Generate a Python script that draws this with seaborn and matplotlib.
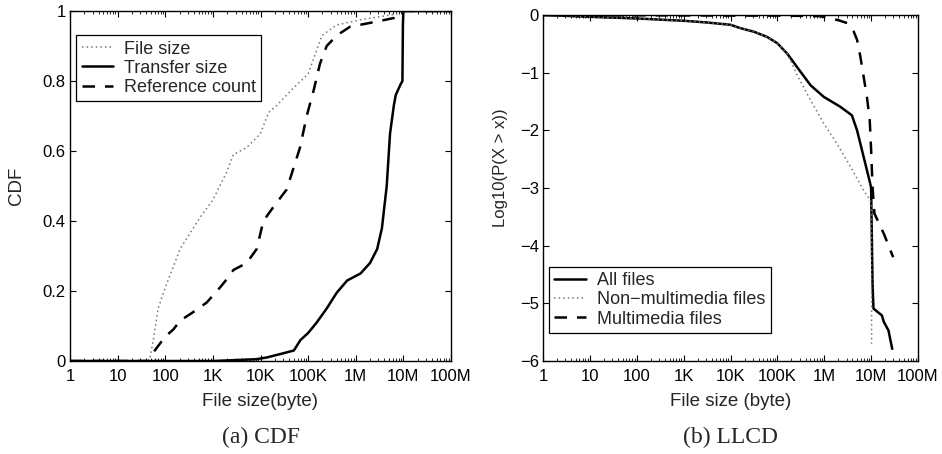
import numpy as np
import pandas as pd
import matplotlib
matplotlib.use("Agg")
import matplotlib.pyplot as plt
import seaborn as sns
from matplotlib.ticker import FixedLocator, LogLocator, NullFormatter

# ---------------- data (x given as log10 of bytes) ----------------
tick_labels = ["1", "10", "100", "1K", "10K", "100K", "1M", "10M", "100M"]

# (a) CDF
file_size_lx = [0, 1.65, 1.68, 1.75, 1.85, 2.0, 2.2, 2.31, 2.45, 2.73, 3.0, 3.29, 3.43, 3.71,
                4.0, 4.17, 4.34, 4.69, 5.0, 5.29, 5.6, 6.1, 6.8, 7.0, 8.0]
file_size_y = [0, 0, 0.01, 0.06, 0.15, 0.21, 0.28, 0.32, 0.35, 0.41, 0.46, 0.54, 0.59, 0.61,
               0.65, 0.71, 0.73, 0.78, 0.82, 0.93, 0.96, 0.975, 0.99, 1.0, 1.0]

transfer_lx = [0, 2.0, 3.0, 3.9, 4.13, 4.42, 4.70, 4.84, 5.0, 5.18, 5.39, 5.6, 5.82, 6.1, 6.3,
               6.45, 6.55, 6.65, 6.72, 6.8, 6.84, 6.94, 6.98, 6.99, 7.0, 8.0]
transfer_y = [0, 0, 0.0, 0.005, 0.01, 0.02, 0.03, 0.06, 0.08, 0.11, 0.15, 0.195, 0.23, 0.25, 0.28,
              0.32, 0.38, 0.5, 0.65, 0.73, 0.76, 0.79, 0.80, 0.96, 1.0, 1.0]

refcount_lx = [0, 1.66, 1.68, 1.78, 2.0, 2.17, 2.31, 2.59, 2.87, 3.15, 3.33, 3.43, 3.71, 3.92,
               4.06, 4.27, 4.55, 4.69, 4.83, 4.97, 5.11, 5.25, 5.39, 5.6, 5.88, 6.45, 6.8, 7.0, 8.0]
refcount_y = [0, 0, 0.005, 0.03, 0.07, 0.09, 0.115, 0.14, 0.167, 0.21, 0.24, 0.26, 0.28, 0.32,
              0.40, 0.44, 0.49, 0.55, 0.61, 0.70, 0.77, 0.85, 0.90, 0.93, 0.955, 0.97, 0.98, 1.0, 1.0]

# (b) LLCD
all_lx = [0, 0.95, 2.0, 3.0, 3.5, 4.0, 4.22, 4.5, 4.78, 5.0, 5.21, 5.49, 5.71, 5.99, 6.34, 6.59,
          6.70, 6.84, 6.98, 7.0, 7.03, 7.05, 7.23, 7.27, 7.37, 7.45]
all_y = [0, -0.03, -0.06, -0.10, -0.13, -0.17, -0.23, -0.29, -0.38, -0.49, -0.67, -0.98, -1.22,
         -1.42, -1.59, -1.74, -2.0, -2.46, -2.92, -3.0, -4.66, -5.09, -5.21, -5.32, -5.47, -5.79]

nonmm_lx = [0, 0.95, 2.0, 3.0, 3.5, 4.0, 4.22, 4.5, 4.78, 5.0, 5.21, 5.42, 5.71, 5.99, 6.27,
            6.56, 6.84, 6.98, 7.01, 7.01]
nonmm_y = [0, -0.03, -0.06, -0.10, -0.13, -0.17, -0.23, -0.29, -0.38, -0.49, -0.67, -1.04, -1.48,
           -1.88, -2.23, -2.63, -3.04, -3.21, -3.3, -5.7]

mm_lx = [0, 2.0, 4.0, 5.0, 5.92, 6.3, 6.49, 6.63, 6.70, 6.77, 6.84, 6.91, 6.97, 7.0, 7.03, 7.07,
         7.2, 7.27, 7.47]
mm_y = [0, -0.005, -0.01, -0.01, -0.02, -0.09, -0.14, -0.29, -0.43, -0.72, -1.07, -1.42, -1.82,
        -2.34, -2.98, -3.44, -3.67, -3.79, -4.2]

# ---------------- style ----------------
sns.set_style("ticks")
plt.rcParams["font.family"] = ["Liberation Sans", "DejaVu Sans"]
plt.rcParams["axes.unicode_minus"] = True

W, H = 942, 454
fig = plt.figure(figsize=(W / 100, H / 100), dpi=100)

def px_axes(l, t, r, b):
    return fig.add_axes([l / W, 1 - b / H, (r - l) / W, (b - t) / H])

ax1 = px_axes(70, 11, 451, 361)
ax2 = px_axes(543, 15, 918, 361)

DOT = dict(color="#777777", lw=1.1, linestyle=(0, (1, 2)))
SOL = dict(color="black", lw=1.8, linestyle="-")
DSH = dict(color="black", lw=1.8, linestyle=(0, (5, 4)))

def frame(lx, y, name):
    return pd.DataFrame({"x": 10 ** np.asarray(lx, float), "y": y, "s": name})

sns.lineplot(data=frame(file_size_lx, file_size_y, "File size"), x="x", y="y", ax=ax1,
             label="File size", estimator=None, sort=False, **DOT)
sns.lineplot(data=frame(transfer_lx, transfer_y, "Transfer size"), x="x", y="y", ax=ax1,
             label="Transfer size", estimator=None, sort=False, **SOL)
sns.lineplot(data=frame(refcount_lx, refcount_y, "Reference count"), x="x", y="y", ax=ax1,
             label="Reference count", estimator=None, sort=False, **DSH)

sns.lineplot(data=frame(all_lx, all_y, "All files"), x="x", y="y", ax=ax2,
             label="All files", estimator=None, sort=False, **SOL)
sns.lineplot(data=frame(nonmm_lx, nonmm_y, "Non-multimedia files"), x="x", y="y", ax=ax2,
             label="Non\u2212multimedia files", estimator=None, sort=False, **DOT)
sns.lineplot(data=frame(mm_lx, mm_y, "Multimedia files"), x="x", y="y", ax=ax2,
             label="Multimedia files", estimator=None, sort=False, **DSH)

TICK_FS = 12
LAB_FS = 13.5
LEG_FS = 13
CAP_FS = 17
for ax in (ax1, ax2):
    ax.set_xscale("log")
    ax.set_xlim(1, 1e8)
    ax.xaxis.set_major_locator(FixedLocator([10 ** i for i in range(9)]))
    ax.set_xticklabels(tick_labels)
    ax.xaxis.set_minor_locator(LogLocator(base=10, subs=np.arange(2, 10), numticks=20))
    ax.xaxis.set_minor_formatter(NullFormatter())
    ax.tick_params(which="both", direction="in", top=True, right=True, colors="black",
                   labelsize=TICK_FS)
    ax.tick_params(axis="x", which="both", pad=6)
    ax.tick_params(axis="y", which="both", pad=3)
    ax.tick_params(which="major", length=4, width=0.8)
    ax.tick_params(which="minor", length=2, width=0.6)
    for sp in ax.spines.values():
        sp.set_visible(True)
        sp.set_color("black")
        sp.set_linewidth(1.0)
    ax.set_facecolor("white")

ax1.set_ylim(0, 1)
ax1.set_yticks([0, 0.2, 0.4, 0.6, 0.8, 1])
ax1.set_yticklabels(["0", "0.2", "0.4", "0.6", "0.8", "1"])
ax1.set_xlabel("File size(byte)", fontsize=LAB_FS)
ax1.set_ylabel("CDF", fontsize=LAB_FS)
ax1.xaxis.set_label_coords(0.5, (361 - 393) / 350)
ax1.yaxis.set_label_coords((25 - 70) / 381, 0.5)

ax2.set_ylim(-6, 0)
ax2.set_yticks([0, -1, -2, -3, -4, -5, -6])
ax2.set_yticklabels(["0", "\u22121", "\u22122", "\u22123", "\u22124", "\u22125", "\u22126"])
ax2.set_xlabel("File size (byte)", fontsize=LAB_FS)
ax2.set_ylabel("Log10(P(X > x))", fontsize=12)
ax2.xaxis.set_label_coords(0.5, (361 - 393) / 346)
ax2.yaxis.set_label_coords((508 - 543) / 375, 0.56)

leg_kw = dict(frameon=True, fancybox=False, edgecolor="black", fontsize=LEG_FS,
              borderaxespad=0, handlelength=1.75, handletextpad=0.6, labelspacing=0.12,
              borderpad=0.3)
l1 = ax1.legend(loc="upper left", bbox_to_anchor=(0.016, 0.931), **leg_kw)
l2 = ax2.legend(loc="lower left", bbox_to_anchor=(0.016, 0.081), **leg_kw)
for lg in (l1, l2):
    lg.get_frame().set_linewidth(0.9)
    lg.get_frame().set_alpha(1)

fig.text((70 + 451) / 2 / W, 1 - 437 / H, "(a) CDF", ha="center", va="center",
         fontsize=CAP_FS, family=["Liberation Serif", "DejaVu Serif"])
fig.text((543 + 918) / 2 / W, 1 - 437 / H, "(b) LLCD", ha="center", va="center",
         fontsize=CAP_FS, family=["Liberation Serif", "DejaVu Serif"])

fig.savefig("out.png", dpi=100, facecolor="white")
